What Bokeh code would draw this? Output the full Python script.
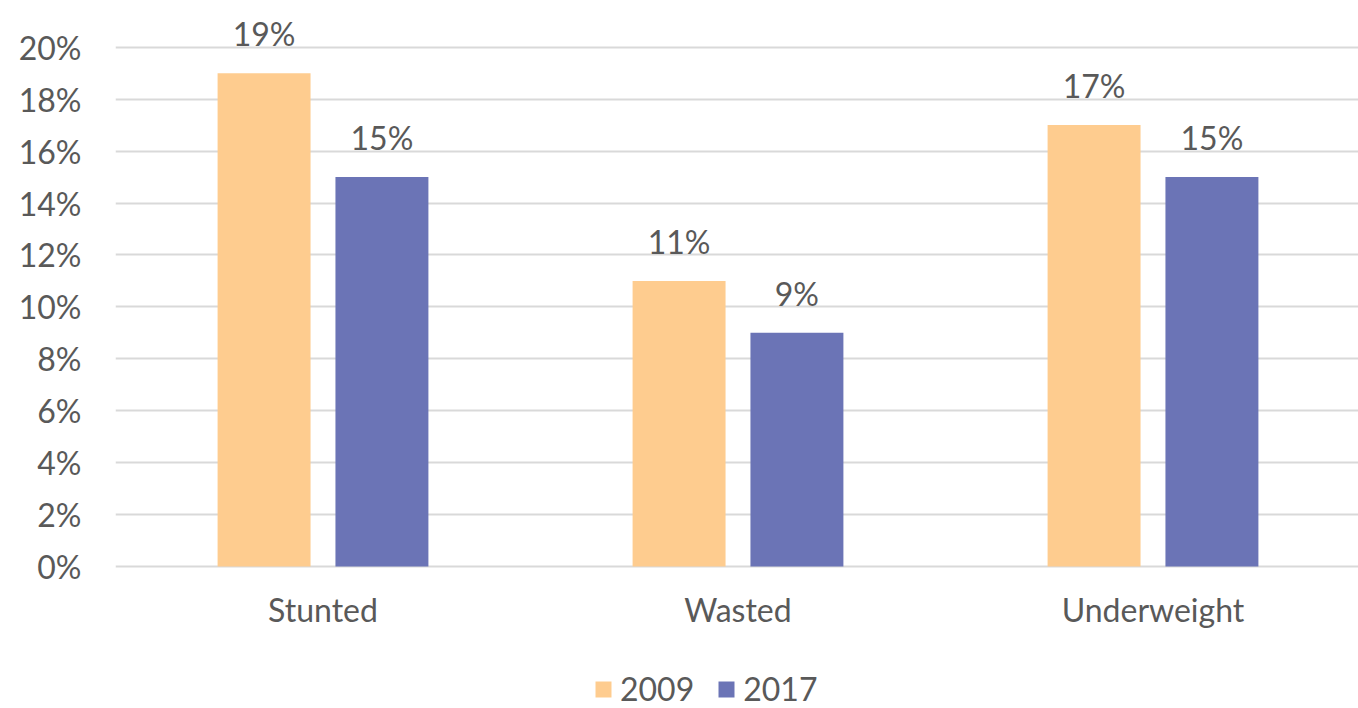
from bokeh.plotting import figure
from bokeh.models import (ColumnDataSource, Range1d, FixedTicker, NumeralTickFormatter,
                          LabelSet, Legend, LegendItem)
from bokeh.core.properties import value
from bokeh.embed import file_html
from bokeh.resources import INLINE

categories = ["Stunted", "Wasted", "Underweight"]
series_names = ["2009", "2017"]
values_2009 = [0.19, 0.11, 0.17]
values_2017 = [0.15, 0.09, 0.15]
y_ticks = [0, 0.02, 0.04, 0.06, 0.08, 0.10, 0.12, 0.14, 0.16, 0.18, 0.20]

colors = ["#FECC8F", "#6B74B6"]
text_color = "#595959"
FONT = "Lato"
FS = "32px"

centers = [i + 0.5 for i in range(len(categories))]
offset = 0.142
bar_w = 0.224

p = figure(width=1358, height=708, output_backend="svg", toolbar_location=None,
           x_range=Range1d(0, 2.9952), y_range=Range1d(-0.0547, 0.2180),
           min_border_left=115, min_border_right=0, min_border_top=0, min_border_bottom=0)
p.outline_line_color = None
p.background_fill_color = "white"
p.border_fill_color = "white"
p.xaxis.visible = False

renderers = []
for k, (vals, name) in enumerate([(values_2009, series_names[0]), (values_2017, series_names[1])]):
    xs = [c + (offset if k else -offset) for c in centers]
    src = ColumnDataSource(dict(x=xs, top=vals,
                                label=[f"{round(v*100)}%" for v in vals]))
    r = p.vbar(x="x", top="top", width=bar_w, bottom=0, source=src,
               fill_color=colors[k], line_color=None)
    renderers.append(r)
    labels = LabelSet(x="x", y="top", text="label", source=src, text_align="center",
                      text_baseline="alphabetic", y_offset=27, text_font=value(FONT),
                      text_font_size=FS, text_color=text_color)
    p.add_layout(labels)

# category labels (x axis)
cat_src = ColumnDataSource(dict(x=centers, y=[0] * len(categories), label=categories))
cat_labels = LabelSet(x="x", y="y", text="label", source=cat_src, text_align="center",
                      text_baseline="alphabetic", y_offset=-56, text_font=value(FONT),
                      text_font_size=FS, text_color=text_color)
p.add_layout(cat_labels)

# y axis
p.yaxis.ticker = FixedTicker(ticks=y_ticks)
p.yaxis.formatter = NumeralTickFormatter(format="0%")
p.yaxis.axis_line_color = None
p.yaxis.major_tick_line_color = None
p.yaxis.minor_tick_line_color = None
p.yaxis.major_tick_out = 0
p.yaxis.major_label_standoff = 34
p.yaxis.major_label_text_font = FONT
p.yaxis.major_label_text_font_size = FS
p.yaxis.major_label_text_color = text_color

p.xgrid.grid_line_color = None
p.ygrid.ticker = FixedTicker(ticks=y_ticks)
p.ygrid.grid_line_color = "#D9D9D9"
p.ygrid.grid_line_width = 2

legend = Legend(items=[LegendItem(label=series_names[i], renderers=[renderers[i]]) for i in range(2)],
                orientation="horizontal", location=(478, 0),
                label_text_font=FONT, label_text_font_size=FS, label_text_color=text_color,
                glyph_width=20, glyph_height=20, label_standoff=7, spacing=22,
                border_line_color=None, background_fill_alpha=0, padding=0, margin=0)
p.add_layout(legend, "center")

open("out.html", "w").write(file_html(p, INLINE))
